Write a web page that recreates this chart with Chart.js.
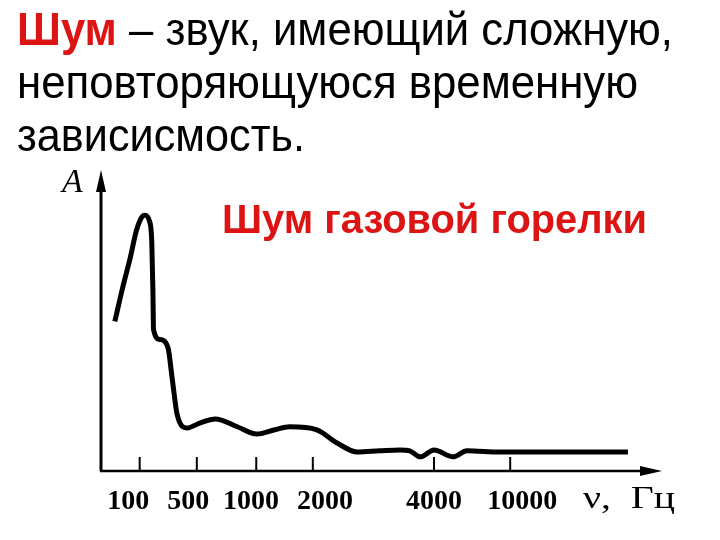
<!DOCTYPE html>
<html>
<head>
<meta charset="utf-8">
<script src="https://cdn.jsdelivr.net/npm/chart.js@4"></script>
<style>
  body { margin: 0; background: #fff; }
  #wrap { position: relative; width: 720px; height: 540px; overflow: hidden; }
  #chart { position: absolute; left: 0; top: 0; }
  #head {
    position: absolute; left: 17px; top: 3px; height: 149px; width: 703px; overflow: hidden;
    font-family: "Liberation Sans", Arial, sans-serif; font-size: 46px; line-height: 53px; color: #000;
    white-space: nowrap; z-index: 2;
  }
  #head div span.ln { display: inline-block; transform-origin: 0 0; }
  .red { color: #dc1414; font-weight: bold; }
</style>
</head>
<body>
<div id="wrap">
  <div id="head">
    <div><span class="ln" data-w="656"><span class="red">Шум</span> – звук, имеющий сложную,</span></div>
    <div><span class="ln" data-w="621">неповторяющуюся временную</span></div>
    <div><span class="ln" data-w="288">зависисмость.</span></div>
  </div>
  <canvas id="chart" width="720" height="540"></canvas>
</div>
<script>
// fit header lines to the widths in the picture
document.querySelectorAll('#head .ln').forEach(function (el) {
    var w = el.getBoundingClientRect().width;
    el.style.transform = 'scaleX(' + (el.dataset.w / w) + ')';
});

// axis units: x is the position along the frequency axis, y is amplitude A
var tickPos = [1, 1.99, 3.02, 4, 6.1, 7.42];
var labelPos = [0.8, 1.84, 2.93, 4.21, 6.1, 7.63];
var tickLabels = ['100', '500', '1000', '2000', '4000', '10000'];

var noiseX = [0.57, 0.71, 0.83, 0.95, 1.05, 1.09, 1.17, 1.21, 1.23, 1.24, 1.35, 1.49, 1.56, 1.65, 1.82, 2.05, 2.31, 2.69, 3.03, 3.34, 3.6, 4.07, 4.42, 4.77, 5.16, 5.51, 5.68, 5.86, 6.1, 6.43, 6.67, 7.24, 9.46];
var noiseA = [49.7, 61.3, 70.3, 80.3, 84.7, 85, 83, 76, 59.3, 47, 43.7, 41, 31.3, 18.7, 14.3, 16, 17.3, 14.7, 12.3, 13.7, 14.7, 13.7, 9.3, 6.3, 6.7, 7, 6.7, 4.7, 7, 4.7, 6.7, 6.3, 6.3];

var axesPlugin = {
    id: 'axesArrows',
    afterDraw: function (chart) {
        var ctx = chart.ctx;
        var a = chart.chartArea;
        var xs = chart.scales.x;
        ctx.save();
        ctx.strokeStyle = '#000';
        ctx.fillStyle = '#000';
        // y axis
        ctx.lineWidth = 3;
        ctx.beginPath();
        ctx.moveTo(a.left, a.bottom);
        ctx.lineTo(a.left, a.top + 18);
        ctx.stroke();
        ctx.beginPath();
        ctx.moveTo(a.left, a.top);
        ctx.lineTo(a.left - 5, a.top + 22);
        ctx.lineTo(a.left + 5, a.top + 22);
        ctx.closePath();
        ctx.fill();
        // x axis
        ctx.lineWidth = 2.5;
        ctx.beginPath();
        ctx.moveTo(a.left - 1, a.bottom);
        ctx.lineTo(a.right - 18, a.bottom);
        ctx.stroke();
        ctx.beginPath();
        ctx.moveTo(a.right, a.bottom);
        ctx.lineTo(a.right - 22, a.bottom - 5);
        ctx.lineTo(a.right - 22, a.bottom + 5);
        ctx.closePath();
        ctx.fill();
        // tick marks pointing up
        ctx.lineWidth = 2;
        tickPos.forEach(function (v) {
            var px = xs.getPixelForValue(v);
            ctx.beginPath();
            ctx.moveTo(px, a.bottom);
            ctx.lineTo(px, a.bottom - 14);
            ctx.stroke();
        });
        // axis names
        ctx.font = 'italic 34px "Liberation Serif", serif';
        ctx.textAlign = 'left';
        ctx.textBaseline = 'alphabetic';
        ctx.fillText('A', a.left - 39, a.top + 22);
        ctx.font = '31px "Liberation Serif", serif';
        var unit = 'ν,  Гц';
        var uw = ctx.measureText(unit).width;
        ctx.save();
        ctx.translate(583, 508);
        ctx.scale(92 / uw, 1);
        ctx.fillText(unit, 0, 0);
        ctx.restore();
        // inner heading
        ctx.font = 'bold 40px "Liberation Sans", Arial, sans-serif';
        ctx.fillStyle = '#dc1414';
        var txt = 'Шум газовой горелки';
        var w = ctx.measureText(txt).width;
        ctx.translate(222, 233);
        ctx.scale(425 / w, 1);
        ctx.fillText(txt, 0, 0);
        ctx.restore();
    }
};

var crt = document.getElementById('chart').getContext('2d');
new Chart(crt, {
    type: 'line',
    data: {
        datasets: [{
            data: noiseX.map(function (x, i) { return { x: x, y: noiseA[i] }; }),
            borderColor: '#000',
            borderWidth: 5,
            pointRadius: 0,
            fill: false,
            cubicInterpolationMode: 'monotone'
        }]
    },
    options: {
        responsive: false,
        animation: false,
        layout: { padding: { left: 101, right: 58, top: 170, bottom: 0 } },
        plugins: { legend: { display: false }, tooltip: { enabled: false } },
        scales: {
            x: {
                type: 'linear',
                min: 0.33,
                max: 10.05,
                grid: { display: false, drawTicks: false },
                border: { display: false },
                afterBuildTicks: function (s) {
                    s.ticks = labelPos.map(function (v) { return { value: v }; });
                },
                afterFit: function (s) { s.height = 69; },
                ticks: {
                    autoSkip: false,
                    maxRotation: 0,
                    padding: 14,
                    color: '#000',
                    font: { family: '"Liberation Serif", serif', size: 28, weight: 'bold' },
                    callback: function (v, i) { return tickLabels[i]; }
                }
            },
            y: {
                display: false,
                min: 0,
                max: 100
            }
        }
    },
    plugins: [axesPlugin]
});
</script>
</body>
</html>
